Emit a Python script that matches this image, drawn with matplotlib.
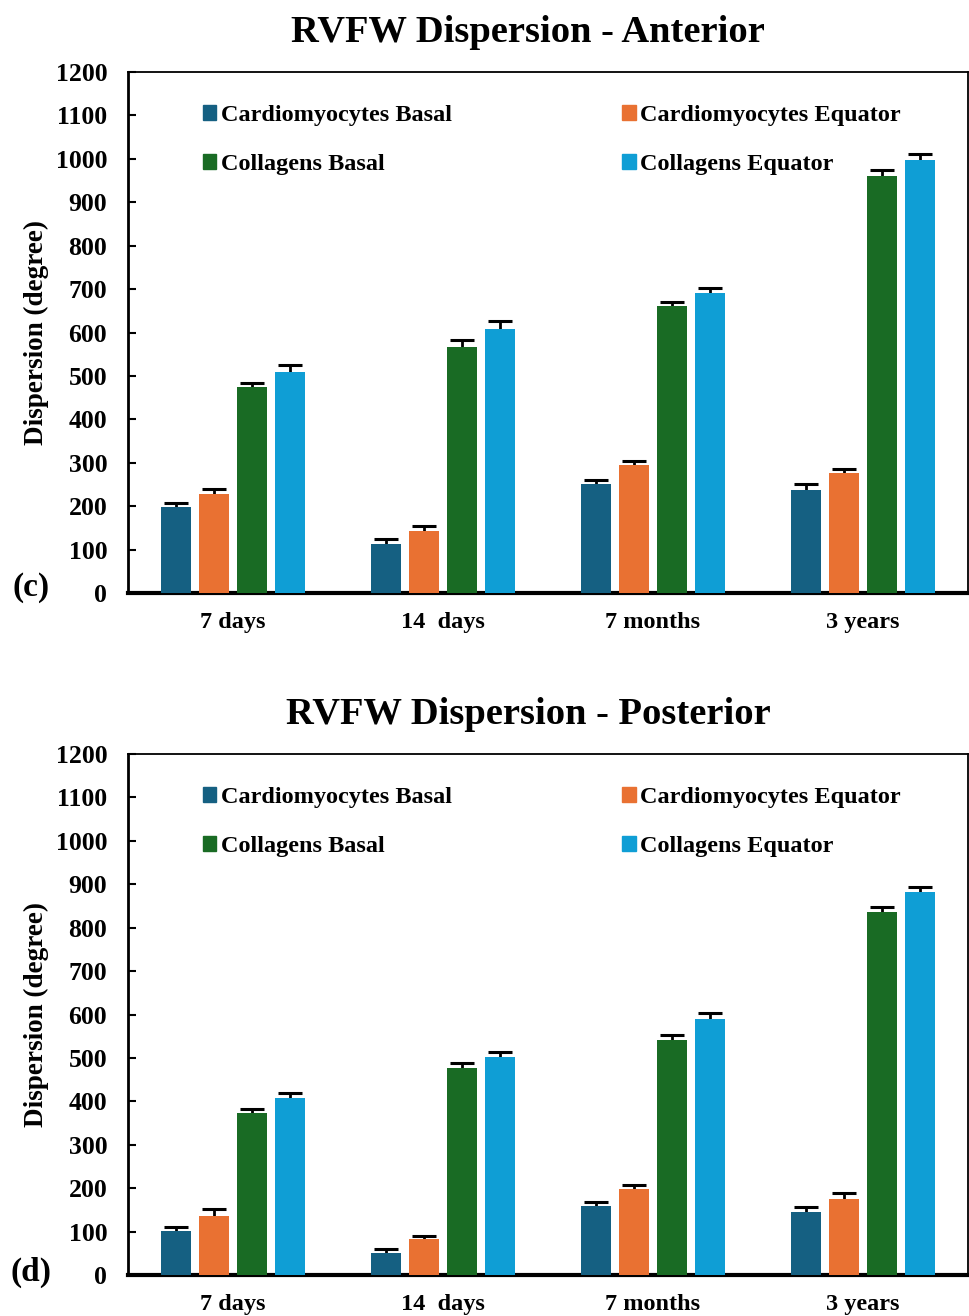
import matplotlib
matplotlib.use("Agg")
import matplotlib.pyplot as plt
import numpy as np
from matplotlib.patches import Patch

groups = ["7 days", "14  days", "7 months", "3 years"]
series = ["Cardiomyocytes Basal", "Cardiomyocytes Equator", "Collagens Basal", "Collagens Equator"]
colors = ["#156082", "#E97132", "#196B24", "#0F9ED5"]

ant_cb = [198, 114, 252, 238]
ant_ce = [229, 143, 295, 277]
ant_cob = [475, 567, 662, 960]
ant_coe = [509, 609, 690, 997]
ant_cb_err = [9, 10, 9, 12]
ant_ce_err = [11, 11, 10, 9]
ant_cob_err = [9, 15, 9, 14]
ant_coe_err = [15, 18, 13, 15]

post_cb = [101, 50, 158, 145]
post_ce = [137, 82, 198, 176]
post_cob = [372, 476, 541, 836]
post_coe = [408, 501, 589, 881]
post_cb_err = [10, 10, 10, 11]
post_ce_err = [14, 8, 10, 12]
post_cob_err = [10, 13, 11, 11]
post_coe_err = [11, 12, 14, 13]

yticks = list(range(0, 1201, 100))

plt.rcParams['font.family'] = ['Liberation Serif', 'DejaVu Serif']
plt.rcParams['font.weight'] = 'bold'

fig = plt.figure(figsize=(9.69, 13.16), dpi=100)
W, H = 969, 1316

def make(ax_rect, vals, errs, title, title_y, panel, panel_y):
    ax = fig.add_axes(ax_rect)
    x = np.arange(len(groups))
    width = 30 / 210
    step = 38 / 210
    for i in range(4):
        pos = x + (i - 1.5) * step
        ax.bar(pos, vals[i], width, color=colors[i], edgecolor='none', zorder=3)
        ax.errorbar(pos, vals[i], yerr=errs[i], fmt='none',
                    ecolor='black', elinewidth=2, capsize=8.5, capthick=2.2, zorder=2)
    ax.set_xlim(-0.5, 3.5)
    ax.set_ylim(0, 1200)
    ax.set_yticks(yticks)
    ax.set_yticklabels([str(t) for t in yticks], fontsize=18.5, fontweight='bold')
    ax.set_xticks(x)
    ax.set_xticklabels(groups, fontsize=17.5, fontweight='bold')
    ax.tick_params(axis='y', direction='in', length=6, width=1.5, pad=15)
    ax.tick_params(axis='x', length=0, pad=14)
    ax.set_ylabel("Dispersion (degree)", fontsize=19.5, fontweight='bold', labelpad=5)
    ax.spines['bottom'].set_linewidth(3)
    ax.spines['left'].set_linewidth(2)
    ax.spines['top'].set_linewidth(1.3)
    ax.spines['right'].set_linewidth(1.3)
    handles = [Patch(color=colors[k]) for k in range(4)]
    order = [0, 2, 1, 3]
    ax.legend([handles[k] for k in order], [series[k] for k in order], ncol=2,
              frameon=False, loc='upper left', bbox_to_anchor=(0.063, 0.979),
              prop={'family': 'Liberation Serif', 'weight': 'bold', 'size': 17.5},
              handlelength=0.55, handleheight=0.55, handletextpad=0.2,
              columnspacing=7.0, labelspacing=1.17)
    fig.text(528 / W, 1 - title_y / H, title, ha='center', va='center',
             fontsize=27.7, fontweight='bold')
    fig.text(31 / W, 1 - panel_y / H, panel, ha='center', va='center',
             fontsize=24, fontweight='bold')
    return ax

make([128 / W, 1 - 593 / H, 840 / W, 521 / H],
     [ant_cb, ant_ce, ant_cob, ant_coe], [ant_cb_err, ant_ce_err, ant_cob_err, ant_coe_err],
     "RVFW Dispersion - Anterior", 33, "(c)", 587)
make([128 / W, 1 - 1275 / H, 840 / W, 521 / H],
     [post_cb, post_ce, post_cob, post_coe], [post_cb_err, post_ce_err, post_cob_err, post_coe_err],
     "RVFW Dispersion - Posterior", 715, "(d)", 1272)

fig.savefig("out.png", dpi=100)
